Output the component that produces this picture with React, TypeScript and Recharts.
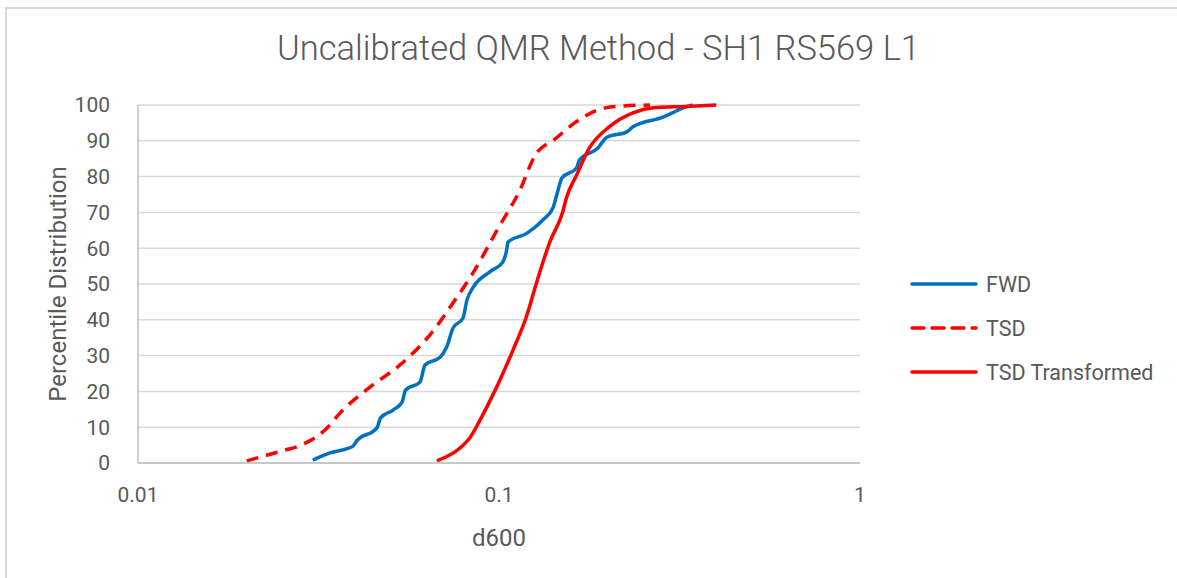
import React from "react";
import { LineChart, Line, XAxis, YAxis, CartesianGrid, Legend } from "recharts";

// d600 value / percentile pairs
const fwdX = [0.0305, 0.034, 0.0394, 0.0403, 0.0459, 0.047, 0.0509, 0.0539, 0.0551, 0.0604, 0.0624, 0.0688, 0.0716, 0.0746, 0.0795, 0.0815, 0.0846, 0.0943, 0.1024, 0.105, 0.1059, 0.1196, 0.1323, 0.141, 0.145, 0.1494, 0.164, 0.167, 0.188, 0.199, 0.226, 0.235, 0.285, 0.324, 0.344];
const fwdY = [0.8, 2.8, 4.7, 6.1, 9.8, 12.6, 14.8, 17, 20.4, 22.6, 27.4, 29.6, 32.4, 37.7, 40.5, 45.5, 48.9, 53.4, 56.1, 59.5, 61.7, 64.2, 67.9, 71.2, 75.4, 79.6, 82.4, 84.6, 88, 91, 92.5, 93.9, 96.6, 99.2, 100];

const tsdX = [0.02, 0.0255, 0.0278, 0.0334, 0.0363, 0.0439, 0.0532, 0.0644, 0.0755, 0.0858, 0.0987, 0.114, 0.126, 0.143, 0.162, 0.18, 0.197, 0.22, 0.262];
const tsdY = [0.6, 3.6, 4.7, 9.8, 14, 21.2, 27.4, 35.8, 45.5, 54, 65, 76, 86, 90.5, 95, 97.8, 99.2, 99.7, 100];

const trX = [0.0673, 0.078, 0.083, 0.0886, 0.0955, 0.1006, 0.1094, 0.119, 0.127, 0.131, 0.138, 0.15, 0.154, 0.164, 0.178, 0.202, 0.235, 0.267, 0.33, 0.4];
const trY = [0.6, 4.2, 7, 12, 18.4, 23.2, 31.6, 40.8, 50.3, 54.7, 61.5, 70, 74.3, 80.4, 88, 93.9, 97.8, 99.2, 99.6, 100];

const xTicks = [0.01, 0.1, 1];
const yTicks = [0, 10, 20, 30, 40, 50, 60, 70, 80, 90, 100];

const toPoints = (xs: number[], ys: number[]) => xs.map((x, i) => ({ x, y: ys[i] }));

const fwd = toPoints(fwdX, fwdY);
const tsd = toPoints(tsdX, tsdY);
const transformed = toPoints(trX, trY);

const font = "Roboto, 'Liberation Sans', sans-serif";
const grey = "#595959";

const LegendBox = ({ payload }: any) => (
  <div style={{ fontFamily: font, fontSize: 21.5, color: grey }}>
    {(payload || []).map((p: any) => (
      <div key={p.value} style={{ display: "flex", alignItems: "center", height: 44 }}>
        <svg width={70} height={8}>
          <line
            x1={2}
            y1={4}
            x2={66}
            y2={4}
            stroke={p.color}
            strokeWidth={3.5}
            strokeDasharray={p.payload?.strokeDasharray}
            strokeLinecap="round"
          />
        </svg>
        <span style={{ marginLeft: 6 }}>{p.value}</span>
      </div>
    ))}
  </div>
);

export default function App() {
  return (
    <div style={{ position: "absolute", left: 0, top: 0, width: 1177, height: 578, background: "#fff" }}>
      <div
        style={{
          position: "absolute",
          left: 5,
          top: 7,
          width: 1180,
          height: 580,
          borderLeft: "2px solid #d9d9d9",
          borderTop: "2px solid #d9d9d9",
        }}
      />
      <div
        style={{
          position: "absolute",
          left: 0,
          width: 1177,
          top: 28,
          textAlign: "center",
          fontFamily: font,
          fontWeight: 300,
          fontSize: 34.5,
          color: grey,
          paddingLeft: 10,
        }}
      >
        Uncalibrated QMR Method - SH1 RS569 L1
      </div>
      <div style={{ position: "absolute", left: 0, top: 0 }}>
        <LineChart width={1177} height={578} margin={{ top: 105, right: 317, left: 78, bottom: 40 }}>
          <CartesianGrid vertical={false} stroke="#d9d9d9" strokeWidth={1.5} />
          <XAxis
            dataKey="x"
            type="number"
            scale="log"
            domain={[0.01, 1]}
            ticks={xTicks}
            allowDataOverflow
            tickLine={false}
            axisLine={{ stroke: "#bfbfbf", strokeWidth: 1.5 }}
            tick={{ fill: grey, fontSize: 21, fontFamily: font }}
            tickMargin={18}
            height={75}
            label={{ value: "d600", position: "insideBottom", offset: -8, fill: grey, fontSize: 24, fontFamily: font }}
          />
          <YAxis
            type="number"
            domain={[0, 100]}
            ticks={yTicks}
            interval={0}
            tickLine={false}
            axisLine={{ stroke: "#bfbfbf", strokeWidth: 1.5 }}
            tick={{ fill: grey, fontSize: 21, fontFamily: font }}
            tickMargin={22}
            width={60}
            label={{
              value: "Percentile Distribution",
              angle: -90,
              position: "insideLeft",
              offset: -21,
              style: { textAnchor: "middle" },
              fill: grey,
              fontSize: 24,
              fontFamily: font,
            }}
          />
          <Legend
            layout="horizontal"
            align="center"
            verticalAlign="middle"
            content={<LegendBox />}
            wrapperStyle={{ left: 910, top: 262, width: 260 }}
          />
          <Line data={fwd} dataKey="y" name="FWD" type="monotone" stroke="#0070c0" strokeWidth={3.5} dot={false} isAnimationActive={false} />
          <Line data={tsd} dataKey="y" name="TSD" type="monotone" stroke="#ff0000" strokeWidth={3.5} strokeDasharray="12 8" dot={false} isAnimationActive={false} />
          <Line data={transformed} dataKey="y" name="TSD Transformed" type="monotone" stroke="#ff0000" strokeWidth={3.5} dot={false} isAnimationActive={false} />
        </LineChart>
      </div>
    </div>
  );
}
